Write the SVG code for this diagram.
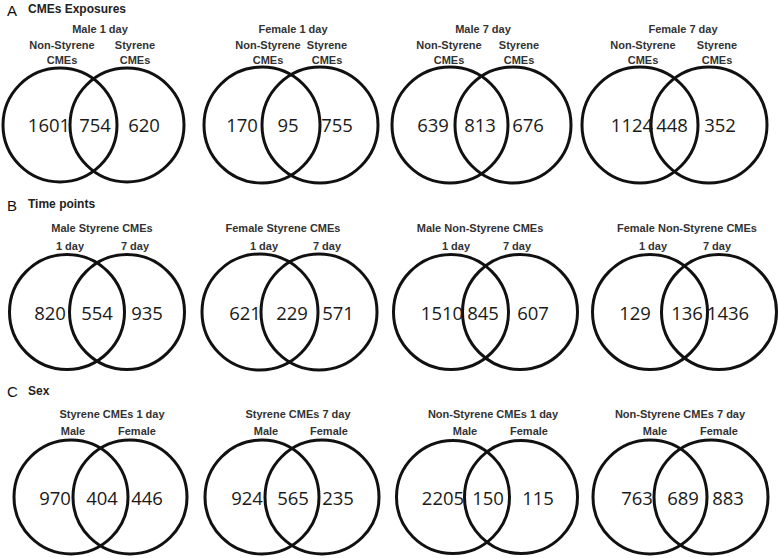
<svg xmlns="http://www.w3.org/2000/svg" width="780" height="558" viewBox="0 0 780 558">
<style>
.c{fill:none;stroke:#111;stroke-width:3}
.n{font-family:"Open Sans","Liberation Sans",sans-serif;font-size:18.5px;fill:#1a1a1a;text-anchor:middle}
.t{font-family:"Liberation Sans",Arial,sans-serif;font-size:11px;font-weight:bold;fill:#333;text-anchor:middle}
.h{font-family:"Liberation Sans",Arial,sans-serif;font-size:12px;font-weight:bold;fill:#222}
.p{font-family:"Liberation Sans",Arial,sans-serif;font-size:15px;fill:#111}
</style>
<rect width="780" height="558" fill="#fff"/>
<g id="headers">
<text class="p" x="7" y="16">A</text><text class="h" x="28" y="13">CMEs Exposures</text>
<text class="p" x="7" y="211">B</text><text class="h" x="28" y="208">Time points</text>
<text class="p" x="7" y="397">C</text><text class="h" x="28" y="395">Sex</text>
</g>
<g id="a1">
<circle class="c" cx="60" cy="125" r="57"/><circle class="c" cx="127" cy="125" r="57"/>
<text class="t" x="100" y="33">Male 1 day</text>
<text class="t" x="62" y="49">Non-Styrene</text><text class="t" x="62" y="64">CMEs</text>
<text class="t" x="135" y="49">Styrene</text><text class="t" x="135" y="64">CMEs</text>
<text class="n" x="49" y="132">1601</text><text class="n" x="95" y="132">754</text><text class="n" x="144" y="132">620</text>
</g>
<g id="a2">
<circle class="c" cx="262" cy="125" r="58"/><circle class="c" cx="320" cy="125" r="58"/>
<text class="t" x="293" y="33">Female 1 day</text>
<text class="t" x="268" y="49">Non-Styrene</text><text class="t" x="268" y="64">CMEs</text>
<text class="t" x="327" y="49">Styrene</text><text class="t" x="327" y="64">CMEs</text>
<text class="n" x="242" y="132">170</text><text class="n" x="288" y="132">95</text><text class="n" x="337" y="132">755</text>
</g>
<g id="a3">
<circle class="c" cx="450" cy="125" r="58"/><circle class="c" cx="513" cy="125" r="58"/>
<text class="t" x="483" y="33">Male 7 day</text>
<text class="t" x="449" y="49">Non-Styrene</text><text class="t" x="449" y="64">CMEs</text>
<text class="t" x="519" y="49">Styrene</text><text class="t" x="519" y="64">CMEs</text>
<text class="n" x="433" y="132">639</text><text class="n" x="480" y="132">813</text><text class="n" x="528" y="132">676</text>
</g>
<g id="a4">
<circle class="c" cx="640" cy="125" r="58"/><circle class="c" cx="709" cy="125" r="58"/>
<text class="t" x="683" y="33">Female 7 day</text>
<text class="t" x="643" y="49">Non-Styrene</text><text class="t" x="643" y="64">CMEs</text>
<text class="t" x="717" y="49">Styrene</text><text class="t" x="717" y="64">CMEs</text>
<text class="n" x="632" y="132">1124</text><text class="n" x="672" y="132">448</text><text class="n" x="720" y="132">352</text>
</g>
<g id="b1">
<circle class="c" cx="67" cy="312" r="57.5"/><circle class="c" cx="127" cy="312" r="57.5"/>
<text class="t" x="102" y="232">Male Styrene CMEs</text>
<text class="t" x="70" y="250">1 day</text><text class="t" x="135" y="250">7 day</text>
<text class="n" x="50" y="320">820</text><text class="n" x="97" y="320">554</text><text class="n" x="147" y="320">935</text>
</g>
<g id="b2">
<circle class="c" cx="260" cy="312" r="58"/><circle class="c" cx="319" cy="312" r="58"/>
<text class="t" x="283" y="232">Female Styrene CMEs</text>
<text class="t" x="264" y="250">1 day</text><text class="t" x="327" y="250">7 day</text>
<text class="n" x="245" y="320">621</text><text class="n" x="292" y="320">229</text><text class="n" x="338" y="320">571</text>
</g>
<g id="b3">
<circle class="c" cx="451" cy="312" r="57.5"/><circle class="c" cx="520" cy="312" r="57.5"/>
<text class="t" x="480" y="232">Male Non-Styrene CMEs</text>
<text class="t" x="456" y="250">1 day</text><text class="t" x="517" y="250">7 day</text>
<text class="n" x="442" y="320">1510</text><text class="n" x="483" y="320">845</text><text class="n" x="533" y="320">607</text>
</g>
<g id="b4">
<circle class="c" cx="650" cy="312" r="57.5"/><circle class="c" cx="719" cy="312" r="57.5"/>
<text class="t" x="687" y="232">Female Non-Styrene CMEs</text>
<text class="t" x="653" y="250">1 day</text><text class="t" x="717" y="250">7 day</text>
<text class="n" x="635" y="320">129</text><text class="n" x="687" y="320">136</text><text class="n" x="728" y="320">1436</text>
</g>
<g id="c1">
<circle class="c" cx="71" cy="497" r="57"/><circle class="c" cx="130" cy="497" r="57"/>
<text class="t" x="112" y="418">Styrene CMEs 1 day</text>
<text class="t" x="73" y="435">Male</text><text class="t" x="137" y="435">Female</text>
<text class="n" x="55" y="505">970</text><text class="n" x="102" y="505">404</text><text class="n" x="147" y="505">446</text>
</g>
<g id="c2">
<circle class="c" cx="262" cy="497" r="57"/><circle class="c" cx="322" cy="497" r="57"/>
<text class="t" x="298" y="418">Styrene CMEs 7 day</text>
<text class="t" x="266" y="435">Male</text><text class="t" x="329" y="435">Female</text>
<text class="n" x="247" y="505">924</text><text class="n" x="293" y="505">565</text><text class="n" x="338" y="505">235</text>
</g>
<g id="c3">
<circle class="c" cx="453" cy="497" r="56.5"/><circle class="c" cx="521" cy="497" r="56.5"/>
<text class="t" x="493" y="418">Non-Styrene CMEs 1 day</text>
<text class="t" x="465" y="435">Male</text><text class="t" x="529" y="435">Female</text>
<text class="n" x="443" y="505">2205</text><text class="n" x="488" y="505">150</text><text class="n" x="538" y="505">115</text>
</g>
<g id="c4">
<circle class="c" cx="650" cy="497" r="57"/><circle class="c" cx="711" cy="497" r="57"/>
<text class="t" x="680" y="418">Non-Styrene CMEs 7 day</text>
<text class="t" x="655" y="435">Male</text><text class="t" x="719" y="435">Female</text>
<text class="n" x="637" y="505">763</text><text class="n" x="683" y="505">689</text><text class="n" x="728" y="505">883</text>
</g>
</svg>
